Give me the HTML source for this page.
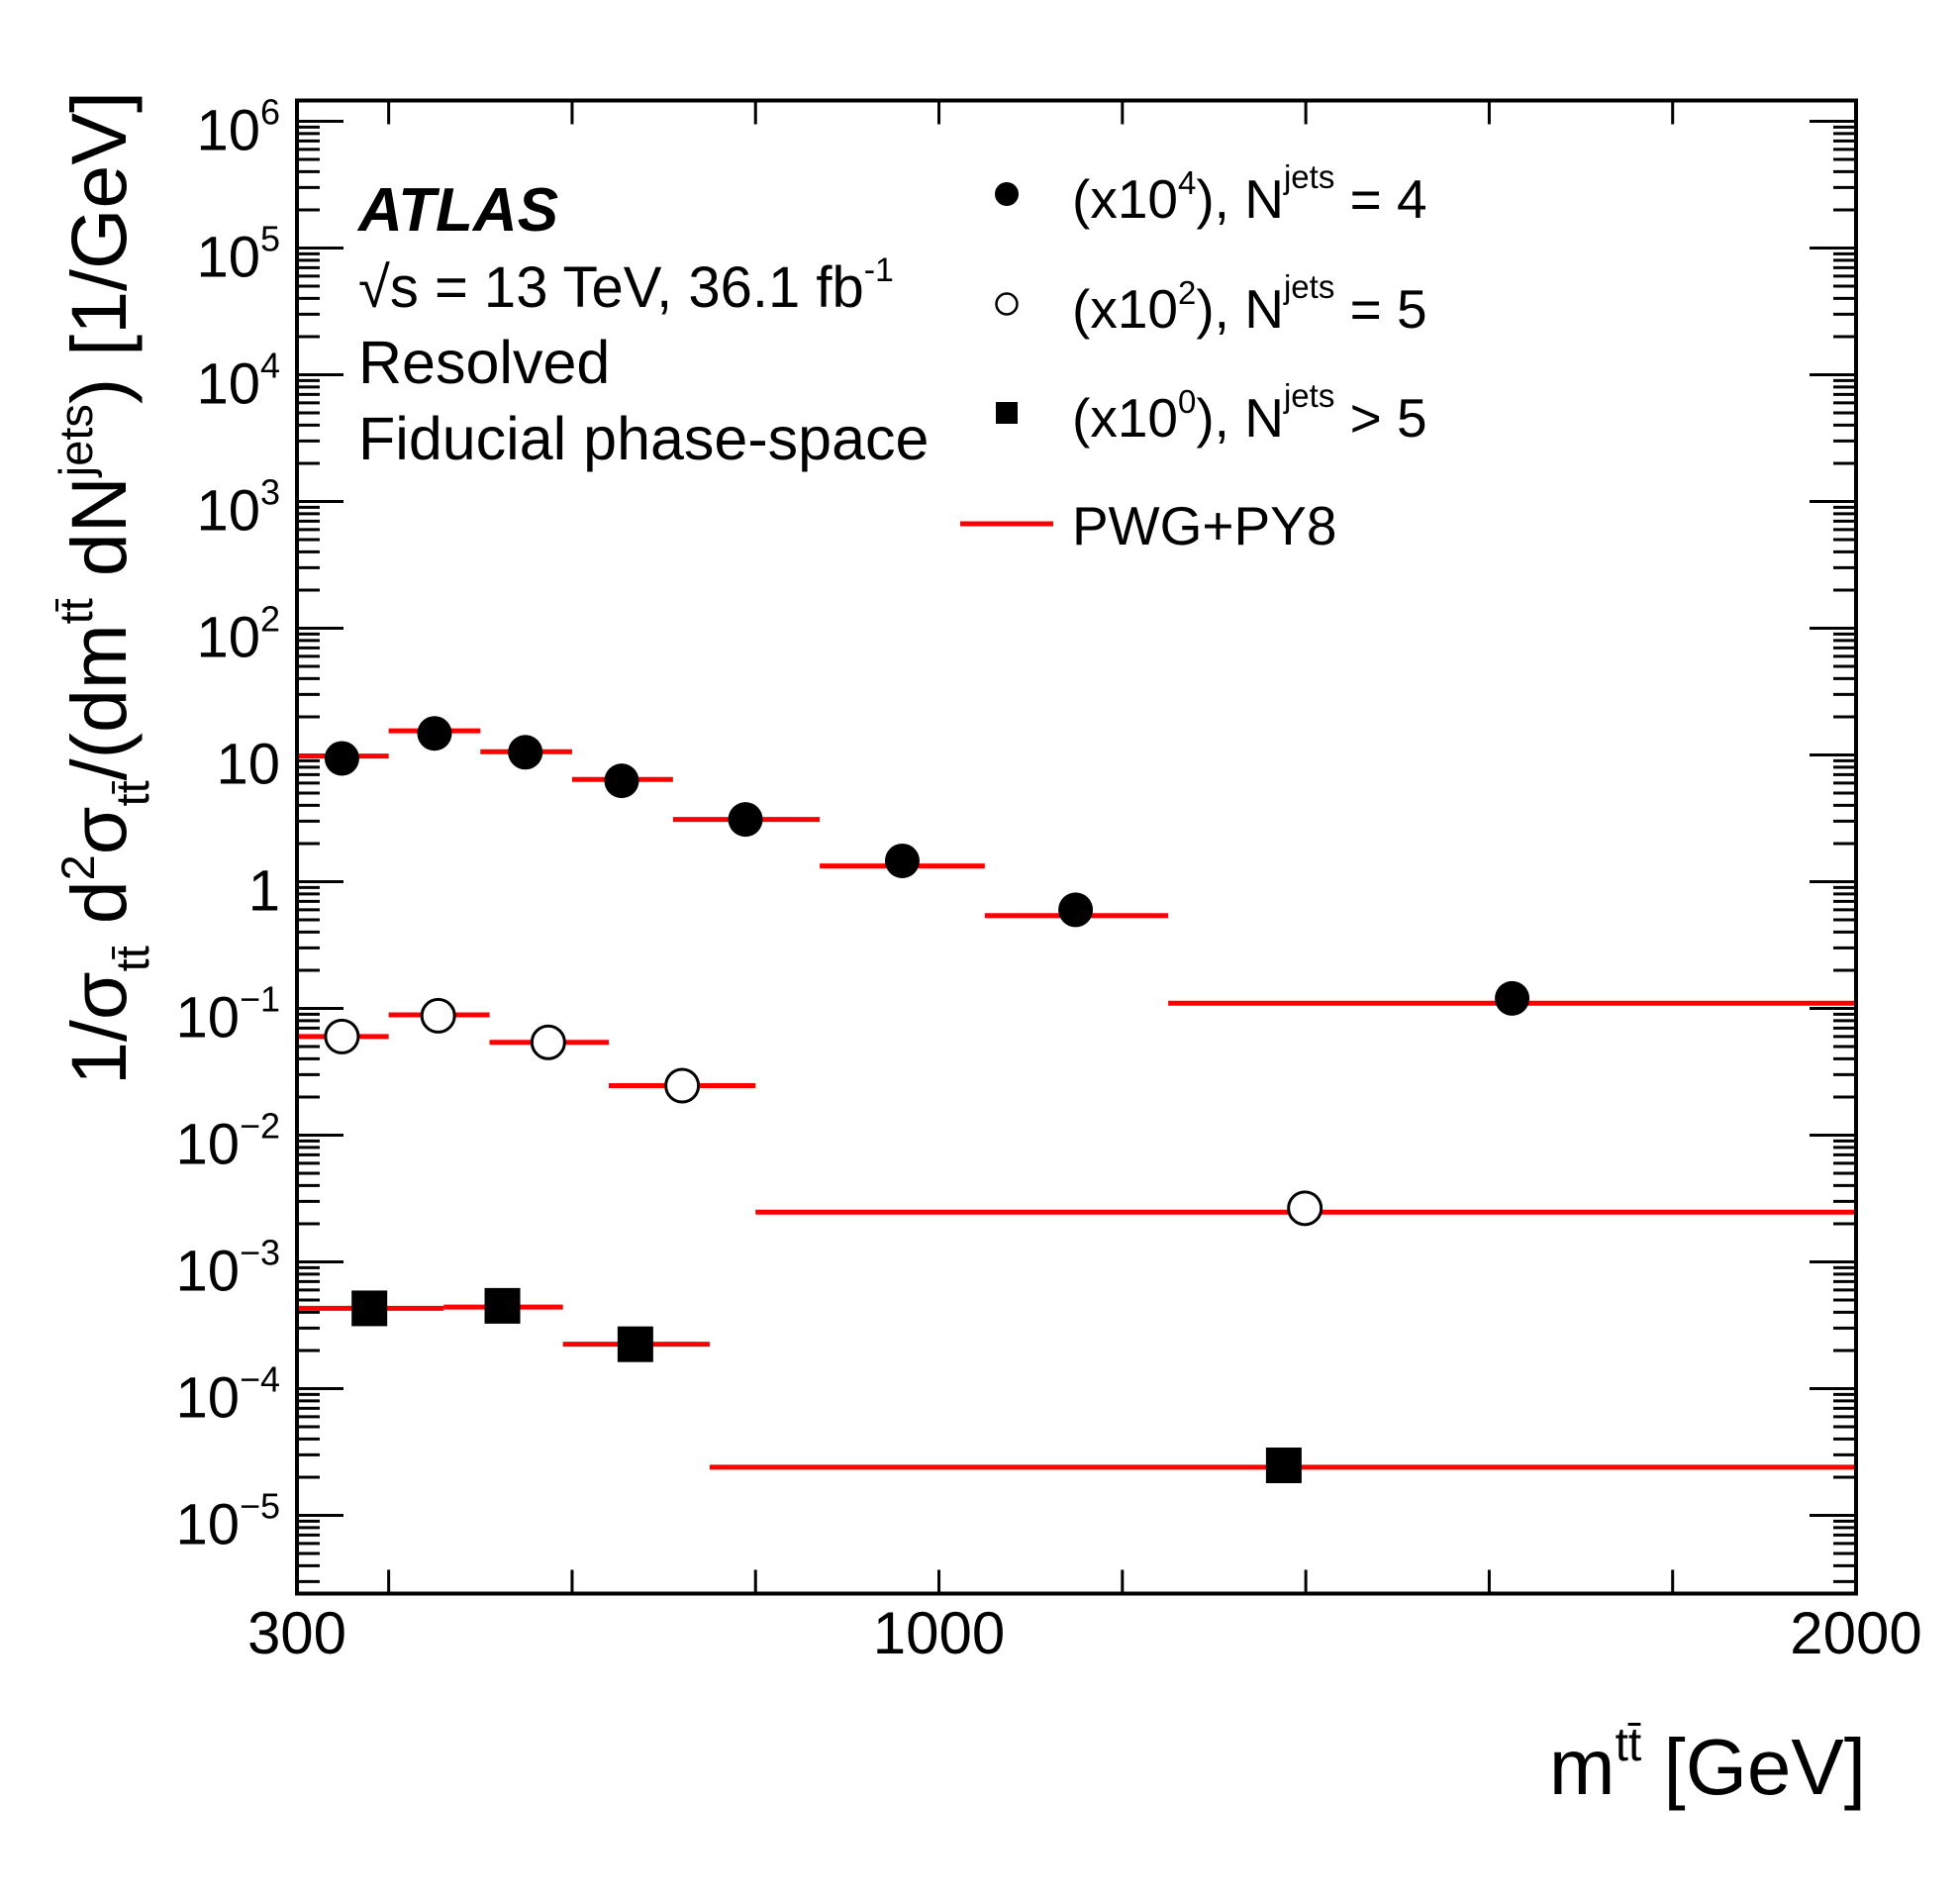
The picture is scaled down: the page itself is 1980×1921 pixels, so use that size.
<!DOCTYPE html>
<html><head><meta charset="utf-8"><style>
html,body{margin:0;padding:0;background:#fff;}
svg{display:block;font-family:"Liberation Sans",Arial,sans-serif;}
</style></head><body>
<svg id="chart" width="1980" height="1921" viewBox="0 0 1980 1921" xmlns="http://www.w3.org/2000/svg">
<rect width="1980" height="1921" fill="#fff"/>
<g id="axes"></g>
<g id="marks"></g>
<rect x="300" y="101.5" width="1575" height="1508" fill="none" stroke="#000" stroke-width="4"/>
<g>
<text x="362" y="233" font-size="62" font-weight="bold" font-style="italic">ATLAS</text>
<text x="362" y="310" font-size="58">√s = 13 TeV, 36.1 fb<tspan dy="-26" font-size="34">-1</tspan></text>
<text x="362" y="387" font-size="61">Resolved</text>
<text x="362" y="464" font-size="61">Fiducial phase-space</text>
</g>
<g font-size="55">
<g>
<circle cx="1017" cy="196" r="12" fill="#000"/>
<text x="1083" y="220">(x10<tspan dy="-24" font-size="33">4</tspan><tspan dy="24">), N</tspan><tspan dy="-30" font-size="33">jets</tspan><tspan dy="30"> = 4</tspan></text>
</g>
<g>
<circle cx="1017" cy="307" r="10.5" fill="none" stroke="#000" stroke-width="2.5"/>
<text x="1083" y="331">(x10<tspan dy="-24" font-size="33">2</tspan><tspan dy="24">), N</tspan><tspan dy="-30" font-size="33">jets</tspan><tspan dy="30"> = 5</tspan></text>
</g>
<g>
<rect x="1006" y="406" width="22" height="22" fill="#000"/>
<text x="1083" y="441">(x10<tspan dy="-24" font-size="33">0</tspan><tspan dy="24">), N</tspan><tspan dy="-30" font-size="33">jets</tspan><tspan dy="30"> &gt; 5</tspan></text>
</g>
<g>
<line x1="970" y1="529" x2="1064" y2="529" stroke="#f00" stroke-width="5"/>
<text x="1083" y="550">PWG+PY8</text>
</g>
</g>
<text x="1885" y="1812" font-size="80" text-anchor="end">m<tspan dy="-34" font-size="48">tt̄</tspan><tspan dy="34"> [GeV]</tspan></text>
<text transform="translate(127,594) rotate(-90)" font-size="79" text-anchor="middle">1/σ<tspan dy="23" font-size="47">tt̄</tspan><tspan dy="-23"> d</tspan><tspan dy="-32" font-size="47">2</tspan><tspan dy="32">σ</tspan><tspan dy="23" font-size="47">tt̄</tspan><tspan dy="-23">/(dm</tspan><tspan dy="-34" font-size="47">tt̄</tspan><tspan dy="34"> dN</tspan><tspan dy="-34" font-size="47">jets</tspan><tspan dy="34">) [1/GeV]</tspan></text>
</svg>
<script>
// ---- data ----
const binEdges4 = [300,400,500,600,710,870,1050,1250,2000];
const pred4 = [9.8,15.5,10.6,6.4,3.1,1.33,0.54,0.11];
const dataX4 = [349,450,549,654,789,960,1149,1625];
const dataY4 = [9.4,14.8,10.5,6.25,3.1,1.46,0.60,0.12];

const binEdges5 = [300,400,510,640,800,2000];
const pred5 = [0.060,0.089,0.054,0.0246,0.00247];
const dataX5 = [349,454,574,720,1399];
const dataY5 = [0.060,0.0875,0.054,0.0246,0.00265];

const binEdges6 = [300,460,590,750,2000];
const pred6 = [0.00043,0.00044,0.000224,0.000024];
const dataX6 = [379,524,669,1376];
const dataY6 = [0.00043,0.00045,0.000224,0.0000248];

const xTickLabels = [300,1000,2000];
const xMajorTicks = [400,600,800,1000,1200,1400,1600,1800];
const yDecades = [6,5,4,3,2,1,0,-1,-2,-3,-4,-5];

// ---- axis functions ----
const X0=300,X1=1875,Y0=101.5,Y1=1609.5;
function xs(v){return X0+(v-300)*(X1-X0)/1700;}
function ys(v){return 122.5+(6-Math.log10(v))*128;}
const NS="http://www.w3.org/2000/svg";
function mk(tag,attrs,parent){const e=document.createElementNS(NS,tag);for(const k in attrs)e.setAttribute(k,attrs[k]);parent.appendChild(e);return e;}
const axes=document.getElementById('axes');
const marks=document.getElementById('marks');

for(const d of yDecades){
  for(let m=1;m<10;m++){
    const v=m*Math.pow(10,d);
    const y=ys(v);
    if(y<Y0+2||y>Y1-2) continue;
    const len=(m===1)?47:23;
    const t1=mk('line',{x1:X0,x2:X0+len,y1:y,y2:y,stroke:'#000','stroke-width':3},axes);
    
    
    const t2=mk('line',{x1:X1,x2:X1-len,y1:y,y2:y,stroke:'#000','stroke-width':3},axes);
    
    
  }
}
for(let m=2;m<10;m++){const y=ys(m*1e-6);if(y<Y1-2){
  const a=mk('line',{x1:X0,x2:X0+23,y1:y,y2:y,stroke:'#000','stroke-width':3},axes);
  
  
  const b=mk('line',{x1:X1,x2:X1-23,y1:y,y2:y,stroke:'#000','stroke-width':3},axes);
  
  
}}
for(const d of yDecades){
  const y=ys(Math.pow(10,d))+29;
  const t=mk('text',{x:283,y:y,'font-size':58,'text-anchor':'end'},axes);
  
  
  if(d===1){t.textContent='10';}
  else if(d===0){t.textContent='1';}
  else{
    t.appendChild(document.createTextNode('10'));
    const s=mk('tspan',{dy:-26,'font-size':36},t);
    s.textContent=(d<0?'\u2212':'')+Math.abs(d);
  }
}
for(const v of xMajorTicks){
  const x=xs(v);
  const a=mk('line',{x1:x,x2:x,y1:Y1,y2:Y1-24,stroke:'#000','stroke-width':3},axes);
  
  
  const b=mk('line',{x1:x,x2:x,y1:Y0,y2:Y0+24,stroke:'#000','stroke-width':3},axes);
  
  
}
for(const v of xTickLabels){
  const t=mk('text',{x:xs(v),y:1670,'font-size':60,'text-anchor':'middle'},axes);
  
  
  t.textContent=String(v);
}
function drawPred(edges,vals,name){
  for(let i=0;i<vals.length;i++){
    const l=mk('line',{x1:xs(edges[i]),x2:xs(edges[i+1]),y1:ys(vals[i]),y2:ys(vals[i]),stroke:'#f00','stroke-width':5},marks);
    
    
  }
}
drawPred(binEdges4,pred4,'pred-line-njets4');
drawPred(binEdges5,pred5,'pred-line-njets5');
drawPred(binEdges6,pred6,'pred-line-njets-gt5');
for(let i=0;i<dataX4.length;i++){
  const c=mk('circle',{cx:xs(dataX4[i]),cy:ys(dataY4[i]),r:17.5,fill:'#000'},marks);
  
  
}
for(let i=0;i<dataX5.length;i++){
  const c=mk('circle',{cx:xs(dataX5[i]),cy:ys(dataY5[i]),r:16.5,fill:'#fff',stroke:'#000','stroke-width':3},marks);
  
  
}
for(let i=0;i<dataX6.length;i++){
  const c=mk('rect',{x:xs(dataX6[i])-18,y:ys(dataY6[i])-18,width:36,height:36,fill:'#000'},marks);
  
  
}
</script>
</body></html>
